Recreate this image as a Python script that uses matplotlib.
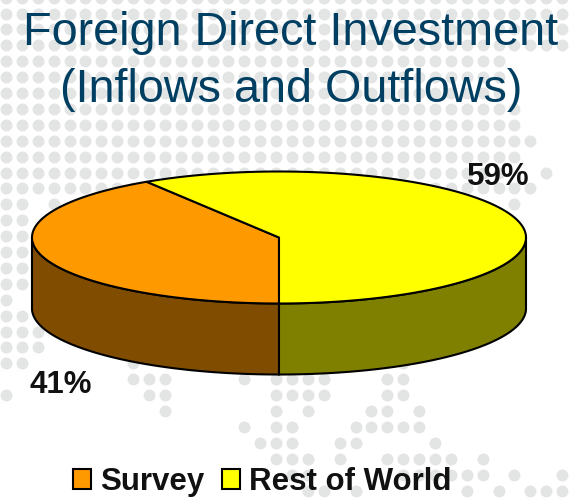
import numpy as np
import matplotlib
matplotlib.use("Agg")
import matplotlib.pyplot as plt
from matplotlib.patches import Patch, Polygon

labels = ["Survey", "Rest of World"]
values = [41, 59]
pct_labels = ["41%", "59%"]
top_colors = ["#ff9900", "#ffff00"]
side_colors = ["#7f4c00", "#808000"]

# background dot map: row index -> column indexes
full_rows = {-1: 35, 0: 35, 1: 35, 2: 35, 3: 31, 4: 31, 5: 31, 6: 32, 7: 32, 8: 33, 9: 32}
partial_rows = {
    10: list(range(0, 32)) + [34],
    11: list(range(0, 34)),
    12: [0, 1, 3, 32],
    13: [0, 1], 14: [0, 1], 15: [0, 1], 16: [0, 1], 17: [0, 1],
    18: [0],
    19: [0, 1],
    20: [0, 1, 2],
    21: [0, 1, 2],
    22: [0, 1, 8, 25],
    23: [8, 9, 10, 15, 17, 18, 19, 20, 24, 25],
    24: [0, 9, 10, 17, 18, 19, 20, 24, 25],
    25: [10, 17, 19, 23, 24, 26],
    26: [15, 17, 18, 22, 23, 24, 25, 26],
    27: [16, 17, 18, 21, 22, 27],
    28: [17, 18, 19, 21, 24, 25, 26, 27, 28, 30],
    29: [18, 19, 25, 26, 27, 28, 29, 30, 32, 35],
    30: [19, 20, 22, 29, 31, 33, 34, 35],
}

plt.rcParams["font.family"] = ["Liberation Sans", "DejaVu Sans"]

fig = plt.figure(figsize=(5.73, 5.0), dpi=100)
ax = fig.add_axes([0, 0, 1, 1])
ax.set_xlim(0, 573)
ax.set_ylim(500, 0)
ax.axis("off")

# dots behind everything
xs, ys = [], []
for j, last in full_rows.items():
    for i in range(last + 1):
        xs.append(6 + 15.89 * i)
        ys.append(13.5 + 15.9 * j)
for j, cols in partial_rows.items():
    for i in cols:
        xs.append(6 + 15.89 * i)
        ys.append(13.5 + 15.9 * j)
ax.scatter(xs, ys, s=74, c="#e3e5e5", linewidths=0, zorder=1)

# 3d pie geometry
cx, cy = 279, 237.5
rx, ry = 247, 66
depth = 71


def rim(a, b, drop=0):
    # a, b in degrees, clockwise from 6 o'clock
    t = np.radians(np.linspace(a, b, 200))
    return np.column_stack([cx - rx * np.sin(t), cy + ry * np.cos(t) + drop])


split = 360 * values[0] / sum(values)

# side walls, only the front half shows
left_up = rim(0, 90)
right_up = rim(360, 270)
wall_left = np.vstack([left_up, rim(90, 0, depth)])
wall_right = np.vstack([right_up, rim(270, 360, depth)])
ax.add_patch(Polygon(wall_left, fc=side_colors[0], ec="black", lw=1.5, zorder=2))
ax.add_patch(Polygon(wall_right, fc=side_colors[1], ec="black", lw=1.5, zorder=2))

# top slices
top_a = np.vstack([[cx, cy], rim(0, split)])
top_b = np.vstack([[cx, cy], rim(split, 360)])
ax.add_patch(Polygon(top_a, fc=top_colors[0], ec="black", lw=1.5, joinstyle="round", zorder=3))
ax.add_patch(Polygon(top_b, fc=top_colors[1], ec="black", lw=1.5, joinstyle="round", zorder=3))

# title
title_color = "#003f62"
ax.text(290.5, 45, "Foreign Direct Investment", fontsize=33.7, color=title_color,
        ha="center", va="baseline", zorder=5)
ax.text(291.5, 102, "(Inflows and Outflows)", fontsize=33.7, color=title_color,
        ha="center", va="baseline", zorder=5)

# percent labels
ax.text(61, 393, pct_labels[0], fontsize=22.5, fontweight="bold", color="#111111",
        ha="center", va="baseline", zorder=5)
ax.text(498.5, 185, pct_labels[1], fontsize=22.5, fontweight="bold", color="#111111",
        ha="center", va="baseline", zorder=5)

handles = [Patch(fc=c, ec="black", lw=1.5) for c in top_colors]
ax.legend(handles, labels, loc="lower center", bbox_to_anchor=(262.5 / 573, -0.026),
          ncol=2, frameon=False, prop={"size": 22.5, "weight": "bold"},
          handlelength=0.58, handleheight=0.6, handletextpad=0.3, columnspacing=0.55,
          borderpad=0, labelcolor="#111111")

fig.savefig("out.png", dpi=100)
